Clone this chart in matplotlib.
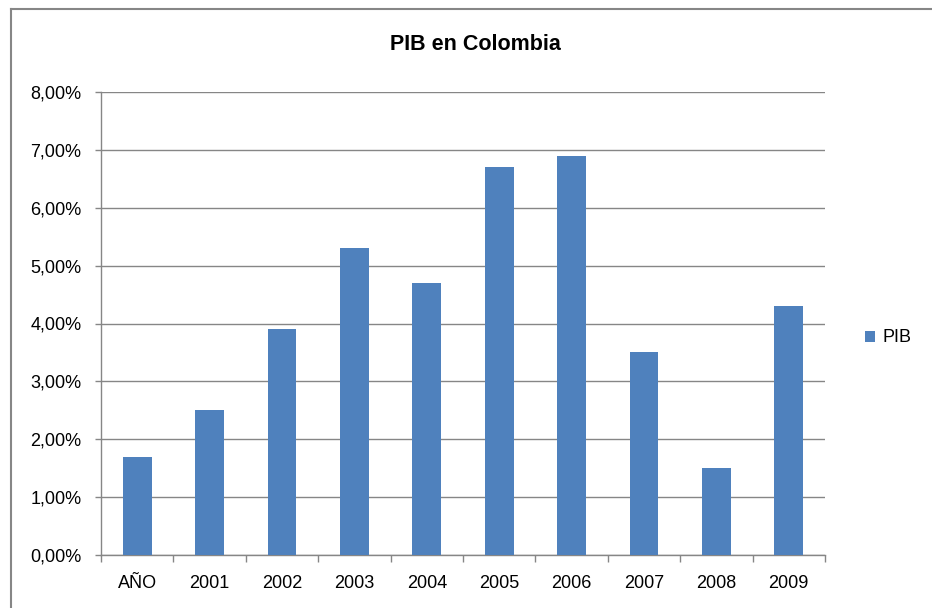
import matplotlib
matplotlib.use("Agg")
import matplotlib.pyplot as plt
import matplotlib.ticker as mticker
from matplotlib.lines import Line2D

categorias = ["AÑO", "2001", "2002", "2003", "2004", "2005", "2006", "2007", "2008", "2009"]
pib = [1.7, 2.5, 3.9, 5.3, 4.7, 6.7, 6.9, 3.5, 1.5, 4.3]
titulo = "PIB en Colombia"
serie = "PIB"

plt.rcParams['font.family'] = ['Liberation Sans', 'DejaVu Sans']
gris = '#868686'

fig = plt.figure(figsize=(9.32, 6.08), dpi=100)
ax = fig.add_axes([101 / 932, 53 / 608, 724 / 932, 463 / 608])

x = range(len(categorias))
ax.bar(x, pib, width=0.4, color='#4F81BD', label=serie, zorder=3)

ax.set_xlim(-0.5, len(categorias) - 0.5)
ax.set_ylim(0, 8)
ax.yaxis.set_major_locator(mticker.MultipleLocator(1))
ax.yaxis.set_major_formatter(mticker.FuncFormatter(lambda v, _: f'{v:.2f}'.replace('.', ',') + '%'))
ax.grid(axis='y', color=gris, linewidth=1, zorder=0)

ax.set_xticks(list(x))
ax.set_xticklabels(categorias)
ax.xaxis.set_minor_locator(mticker.FixedLocator([i - 0.5 for i in range(len(categorias) + 1)]))
ax.tick_params(axis='x', which='major', length=0, pad=14.5, labelsize=13)
ax.tick_params(axis='x', which='minor', length=5, color=gris, width=1)
ax.tick_params(axis='y', length=4.5, color=gris, width=1, labelsize=13, pad=9.5)

for s in ['top', 'right']:
    ax.spines[s].set_visible(False)
for s in ['left', 'bottom']:
    ax.spines[s].set_color(gris)
    ax.spines[s].set_linewidth(1)

fig.text(475 / 932, 1 - 45 / 608, titulo, ha='center', va='center', fontsize=15.5, fontweight='bold')

ax.legend(loc='center left', bbox_to_anchor=(849 / 932, 1 - 338 / 608), bbox_transform=fig.transFigure,
          frameon=False, handlelength=0.55, handleheight=0.55, handletextpad=0.4, fontsize=13)

# marco exterior
fig.add_artist(Line2D([11 / 932, 11 / 932], [0, 1 - 9 / 608], transform=fig.transFigure, color=gris, linewidth=1.5))
fig.add_artist(Line2D([11 / 932, 1], [1 - 9 / 608, 1 - 9 / 608], transform=fig.transFigure, color=gris, linewidth=1.5))

fig.savefig('out.png', dpi=100)
